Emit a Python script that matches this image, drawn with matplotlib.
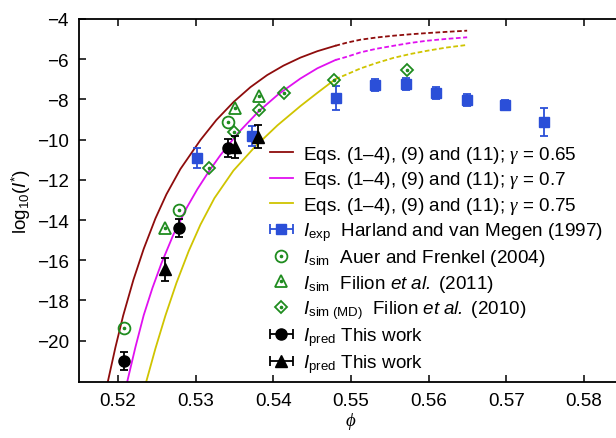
import numpy as np
import matplotlib
matplotlib.use("Agg")
import matplotlib.pyplot as plt
from matplotlib.lines import Line2D
from matplotlib.collections import LineCollection
from matplotlib.container import ErrorbarContainer
from matplotlib.legend_handler import HandlerErrorbar, HandlerTuple

plt.rcParams['font.family'] = ['Liberation Sans', 'DejaVu Sans']
plt.rcParams['mathtext.fontset'] = 'custom'
plt.rcParams['mathtext.rm'] = 'Liberation Sans'
plt.rcParams['mathtext.sf'] = 'Liberation Sans:italic'
plt.rcParams['mathtext.it'] = 'Liberation Serif:italic'
plt.rcParams['mathtext.bf'] = 'Liberation Sans:bold'

# ---- data ----
# model curves (solid part, then dashed continuation)
red_phi = [0.518661, 0.519652, 0.520644, 0.521970, 0.523296, 0.524803, 0.526219, 0.528022,
           0.530597, 0.532657, 0.534885, 0.537035, 0.539186, 0.541285, 0.543474, 0.545663, 0.547981]
red_y = [-22.06, -20.33, -18.76, -16.97, -15.43, -13.92, -12.72, -11.46,
         -10.02, -9.02, -8.12, -7.39, -6.79, -6.32, -5.92, -5.60, -5.33]
red_phi_d = [0.547981, 0.549526, 0.551200, 0.553260, 0.555488, 0.557638, 0.559789, 0.562274, 0.564940]
red_y_d = [-5.33, -5.17, -5.03, -4.92, -4.83, -4.76, -4.70, -4.64, -4.58]

mag_phi = [0.521159, 0.522228, 0.523296, 0.524417, 0.525576, 0.527121, 0.528859, 0.530211,
           0.531666, 0.533173, 0.535491, 0.538105, 0.540641, 0.543474, 0.545663, 0.547981]
mag_y = [-22.06, -20.32, -18.73, -17.38, -16.15, -14.72, -13.37, -12.46,
         -11.59, -10.77, -9.65, -8.59, -7.74, -6.96, -6.45, -6.04]
mag_phi_d = [0.547981, 0.549526, 0.551200, 0.553260, 0.555488, 0.557638, 0.559789, 0.562274, 0.564940]
mag_y_d = [-6.04, -5.87, -5.66, -5.48, -5.33, -5.19, -5.08, -4.99, -4.91]

yel_phi = [0.523605, 0.524803, 0.526091, 0.527507, 0.529091, 0.530597, 0.532400, 0.534847,
           0.537680, 0.540512, 0.543474, 0.545663, 0.547981]
yel_y = [-22.06, -20.39, -18.75, -17.13, -15.54, -14.23, -12.91, -11.54,
         -10.33, -9.29, -8.33, -7.67, -6.99]
yel_phi_d = [0.547981, 0.549526, 0.551200, 0.553260, 0.555488, 0.557638, 0.559789, 0.562274, 0.564940]
yel_y_d = [-6.99, -6.74, -6.46, -6.19, -5.93, -5.74, -5.58, -5.42, -5.29]

# Harland and van Megen (1997)
exp_phi = [0.5302, 0.5372, 0.5481, 0.5531, 0.5571, 0.5609, 0.5649, 0.5698, 0.5749]
exp_y = [-10.92, -9.81, -7.93, -7.28, -7.23, -7.70, -8.03, -8.28, -9.11]
exp_err = [0.48, 0.50, 0.59, 0.30, 0.30, 0.30, 0.28, 0.25, 0.69]

# Auer and Frenkel (2004)
af_phi = [0.5207, 0.5278, 0.5342]
af_y = [-19.37, -13.50, -9.14]

# Filion et al. (2011)
f11_phi = [0.5260, 0.5351, 0.5381]
f11_y = [-14.41, -8.44, -7.85]

# Filion et al. (2010) MD
f10_phi = [0.5317, 0.5349, 0.5381, 0.5414, 0.5478, 0.5572]
f10_y = [-11.41, -9.60, -8.53, -7.70, -7.03, -6.54]

# This work (circles)
pc_phi = [0.5207, 0.5278, 0.5342]
pc_y = [-21.00, -14.41, -10.42]
pc_err = [0.44, 0.44, 0.43]

# This work (triangles)
pt_phi = [0.5260, 0.5351, 0.5380]
pt_y = [-16.45, -10.38, -9.86]
pt_err = [0.56, 0.55, 0.57]

xticks = [0.52, 0.53, 0.54, 0.55, 0.56, 0.57, 0.58]
yticks = [-20, -18, -16, -14, -12, -10, -8, -6, -4]

labels = [
    'Eqs. (1\u20134), (9) and (11); $\\gamma$ = 0.65',
    'Eqs. (1\u20134), (9) and (11); $\\gamma$ = 0.7',
    'Eqs. (1\u20134), (9) and (11); $\\gamma$ = 0.75',
    r'$\mathsf{I}_\mathrm{exp}$  Harland and van Megen (1997)',
    r'$\mathsf{I}_\mathrm{sim}$  Auer and Frenkel (2004)',
    r'$\mathsf{I}_\mathrm{sim}$  Filion $\mathsf{et\ al.}$ (2011)',
    r'$\mathsf{I}_\mathrm{sim\ (MD)}$  Filion $\mathsf{et\ al.}$ (2010)',
    r'$\mathsf{I}_\mathrm{pred}$ This work',
    r'$\mathsf{I}_\mathrm{pred}$ This work',
]

# ---- style ----
C_RED = '#8e0c0c'
C_MAG = '#e010f0'
C_YEL = '#cfc400'
C_BLUE = '#2b4fd8'
C_GREEN = '#1f8c1f'
FS = 13.6

W, H = 616, 439
fig = plt.figure(figsize=(W / 100, H / 100), dpi=100)
ax_left, ax_top, ax_bot = 79.3, 20.0, 383.3
xl = (0.515, 0.585)
px_per = 7766.0
ax_w = (xl[1] - xl[0]) * px_per
ax = fig.add_axes([ax_left / W, (H - ax_bot) / H, ax_w / W, (ax_bot - ax_top) / H])

lw = 1.3
dash = (0, (2.6, 1.4))
l_red, = ax.plot(red_phi, red_y, color=C_RED, lw=lw)
ax.plot(red_phi_d, red_y_d, color=C_RED, lw=lw, ls=dash)
l_mag, = ax.plot(mag_phi, mag_y, color=C_MAG, lw=lw)
ax.plot(mag_phi_d, mag_y_d, color=C_MAG, lw=lw, ls=dash)
l_yel, = ax.plot(yel_phi, yel_y, color=C_YEL, lw=lw)
ax.plot(yel_phi_d, yel_y_d, color=C_YEL, lw=lw, ls=dash)

# experimental
ax.errorbar(exp_phi, exp_y, yerr=exp_err, fmt='s', color=C_BLUE, ms=7.5,
            capsize=3, elinewidth=1.3, capthick=1.3, zorder=5)

# simulations (open markers with central dot)
mk = dict(ls='none', mfc='none', mew=1.3, color=C_GREEN, zorder=6)
dot = dict(ls='none', marker='o', ms=1.6, color=C_GREEN, zorder=7)
h_af, = ax.plot(af_phi, af_y, marker='o', ms=8.5, **mk)
d_af, = ax.plot(af_phi, af_y, **dot)
h_f11, = ax.plot(f11_phi, f11_y, marker='^', ms=9, **mk)
d_f11, = ax.plot(f11_phi, f11_y, **dot)
h_f10, = ax.plot(f10_phi, f10_y, marker='D', ms=6.5, **mk)
d_f10, = ax.plot(f10_phi, f10_y, **dot)

# predictions
ax.errorbar(pc_phi, pc_y, yerr=pc_err, fmt='o', color='black', ms=8,
            capsize=3, elinewidth=1.3, capthick=1.3, zorder=8)
ax.errorbar(pt_phi, pt_y, yerr=pt_err, fmt='^', color='black', ms=8,
            capsize=3, elinewidth=1.3, capthick=1.3, zorder=8)

ax.set_xlim(*xl)
ax.set_ylim(-22.07, -4)
ax.set_xticks(xticks)
ax.set_xticklabels([f'{v:.2f}' for v in xticks])
ax.set_yticks(yticks)
ax.set_yticklabels([f'\u2212{abs(v)}' for v in yticks])
ax.tick_params(direction='in', length=5, width=1.1, top=True, right=False,
               labelsize=FS)
ax.tick_params(axis='x', pad=7)
ax.tick_params(axis='y', pad=7.5)
for s in ['left', 'bottom', 'top']:
    ax.spines[s].set_linewidth(1.3)
ax.spines['right'].set_visible(False)
ax.set_xlabel(r'$\phi$', fontsize=FS, labelpad=1)
ax.set_ylabel(r'$\mathrm{log}_{10}(\mathsf{I}^{*})$', fontsize=FS, labelpad=3)

# ---- legend handles ----
def eb_handle(color, marker, ms):
    ln = Line2D([], [], ls='none', marker=marker, ms=ms, color=color)
    cap = Line2D([], [], ls='none', marker='|', ms=7, mew=1.3, color=color)
    bar = LineCollection([], colors=color, linewidths=1.3)
    return ErrorbarContainer((ln, (cap, cap), (bar,)), has_xerr=True, has_yerr=False)

h_exp = eb_handle(C_BLUE, 's', 7.5)
h_pc = eb_handle('black', 'o', 8)
h_pt = eb_handle('black', '^', 8)

handles = [l_red, l_mag, l_yel, h_exp, (h_af, d_af), (h_f11, d_f11), (h_f10, d_f10), h_pc, h_pt]
leg = fig.legend(handles, labels, loc='upper left',
                 bbox_to_anchor=(270 / W, 1 - 145 / H), frameon=False,
                 fontsize=FS, handlelength=1.2, handletextpad=0.55,
                 labelspacing=0.23, borderpad=0, borderaxespad=0,
                 handler_map={ErrorbarContainer: HandlerErrorbar(xerr_size=0.62),
                              tuple: HandlerTuple(ndivide=1)})

fig.savefig('out.png', dpi=100)
